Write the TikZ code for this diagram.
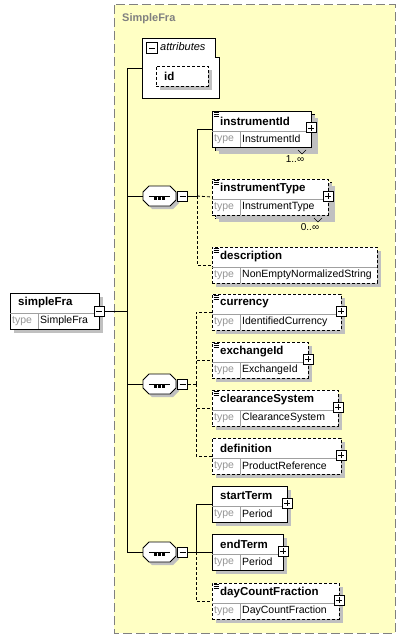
\documentclass[tikz,border=0pt]{standalone}
\usepackage{fontspec}
\setmainfont{Liberation Sans}
\usepackage{xcolor}
\usetikzlibrary{fit}
\definecolor{GroupYellow}{RGB}{255, 255, 196}
\definecolor{GroupBorder}{RGB}{128, 128, 128}
\definecolor{ShadowGray}{RGB}{192, 192, 192}
\definecolor{TypeGray}{RGB}{150, 150, 150}
\definecolor{DivGray}{RGB}{160, 160, 160}

% element box: name, style, left, top, right, label, type
\newcommand\elembox[7]{%
  \fill[ShadowGray] (#3+4,#4+4) rectangle (#5+4,#4+40);
  \node[elem,#2,fit={(#3,#4) (#5,#4+36)}] (#1) {};
  \draw[divline] (#3,#4+20) -- (#5,#4+20) (#3+28,#4+20) -- (#3+28,#4+36);
  \node[nametext] at (#3+8,#4+10) {#6};
  \node[typelbl] at (#3+2,#4+28) {type};
  \node[typetext] at (#3+30,#4+28) {#7};
}
% plus button on the right edge of an element
\newcommand\plusbtn[1]{%
  \node[btn] (#1plus) at ([yshift=1pt]#1.east) {};
  \draw[line width=0.9pt] ([xshift=-3pt]#1plus.center) -- ([xshift=3pt]#1plus.center)
    ([yshift=-3pt]#1plus.center) -- ([yshift=3pt]#1plus.center);
}
% documentation mark
\newcommand\docmark[1]{%
  \draw[line width=0.6pt] ([xshift=2pt,yshift=-2pt]#1.north west) -- ++(5,0)
    ++(-5,2) -- ++(5,0) ++(-5,2) -- ++(5,0);
}
% sequence compositor with its minus button
\newcommand\seqshape[2]{(#1-10.5,#2-10) -- (#1+10.5,#2-10) -- (#1+16.5,#2-4) -- (#1+16.5,#2+4)
  -- (#1+10.5,#2+10) -- (#1-10.5,#2+10) -- (#1-16.5,#2+4) -- (#1-16.5,#2-4) -- cycle}
\newcommand\seqnode[3]{%
  \fill[ShadowGray, shift={(3,3)}] \seqshape{#2}{#3};
  \draw[fill=white, line width=0.8pt] \seqshape{#2}{#3};
  \node[seqbox] (#1) at (#2,#3) {};
  \draw[line width=1pt] ([xshift=6pt]#1.west) -- ([xshift=-6pt]#1.east);
  \foreach \dx in {-5.5,-1.3,2.9}
    \fill ([xshift=\dx pt,yshift=-1.3pt]#1.center) rectangle ++(2.6,2.6);
  \node[btn,anchor=west] (#1minus) at ([xshift=1pt]#1.east) {};
  \draw[line width=0.9pt] ([xshift=-3pt]#1minus.center) -- ([xshift=3pt]#1minus.center);
}

\tikzset{
  elem/.style={draw, fill=white, line width=0.8pt, inner sep=0pt},
  divline/.style={draw=DivGray, line width=0.6pt, solid},
  nametext/.style={anchor=west, inner sep=0pt, font=\fontsize{11.5}{13}\selectfont\bfseries},
  typelbl/.style={anchor=west, inner sep=0pt, text=TypeGray, font=\fontsize{10.5}{12}\selectfont},
  typetext/.style={anchor=west, inner sep=0pt, font=\fontsize{10.5}{12}\selectfont},
  btn/.style={draw, fill=white, line width=1pt, minimum size=10pt, inner sep=0pt},
  seqbox/.style={minimum width=33pt, minimum height=20pt, inner sep=0pt},
  occur/.style={font=\fontsize{10}{12}\selectfont, inner sep=0pt},
  link/.style={line width=0.8pt},
  optlink/.style={line width=0.8pt, dashed, dash pattern=on 3pt off 2pt},
}

\begin{document}
\begin{tikzpicture}[x=1pt, y=-1pt]
  \useasboundingbox (0,0) rectangle (405,639);
  \fill[white] (0,0) rectangle (405,639);

  % complex type group
  \draw[fill=GroupYellow, draw=GroupBorder, line width=1pt, dash pattern=on 9pt off 4pt]
    (114,5) rectangle (395,633);
  \node[anchor=west, inner sep=0pt, text=GroupBorder, font=\fontsize{11}{13}\selectfont\bfseries]
    (ctname) at (122,19) {SimpleFra};

  % attributes
  \node[inner sep=0pt, fit={(142,38) (219,98)}] (attrs) {};
  \draw[fill=white, line width=0.8pt] (142,38) -- (215,38) -- (215,57) -- (219,57)
    -- (219,98) -- (142,98) -- cycle;
  \node[btn, minimum size=11pt] (attrsminus) at (152,48.5) {};
  \draw[line width=0.9pt] (149,48.5) -- (155,48.5);
  \node[anchor=west, inner sep=0pt, font=\fontsize{11}{13}\selectfont\itshape] at (160,47) {attributes};
  \fill[ShadowGray] (160,70) rectangle (212,90);
  \node[elem, dashed, dash pattern=on 3pt off 2pt, fit={(156,66) (208,86)}] (id) {};
  \node[nametext] at (164,76) {id};

  % root element
  \elembox{simpleFra}{}{10}{293}{99}{simpleFra}{SimpleFra}
  \node[btn, anchor=center] (simpleFraminus) at (99,311) {};
  \draw[line width=0.9pt] (96,311) -- (102,311);

  % compositors
  \seqnode{seqA}{159.5}{196}
  \seqnode{seqB}{159.5}{384}
  \seqnode{seqC}{159.5}{552}

  % first sequence
  \fill[ShadowGray] (219,118) rectangle (318,154);
  \node[elem, fit={(215,114) (314,150)}] (instrumentIdback) {};
  \elembox{instrumentId}{}{212}{111}{311}{instrumentId}{InstrumentId}
  \plusbtn{instrumentId}
  \docmark{instrumentId}
  \draw[line width=0.6pt] (298,150) -- (302,154) -- (306,150);
  \node[occur] at (295,159) {1..∞};

  \fill[ShadowGray] (219,186) rectangle (335,222);
  \node[elem, optlink, fit={(215,182) (331,218)}] (instrumentTypeback) {};
  \elembox{instrumentType}{optlink}{212}{179}{328}{instrumentType}{InstrumentType}
  \plusbtn{instrumentType}
  \docmark{instrumentType}
  \draw[line width=0.6pt] (314,218) -- (318,222) -- (322,218);
  \node[occur] at (310,227) {0..∞};

  \elembox{description}{optlink}{212}{247}{377}{description}{NonEmptyNormalizedString}
  \docmark{description}

  % second sequence
  \elembox{currency}{optlink}{212}{294}{341}{currency}{IdentifiedCurrency}
  \plusbtn{currency}
  \docmark{currency}
  \elembox{exchangeId}{optlink}{212}{342}{308}{exchangeId}{ExchangeId}
  \plusbtn{exchangeId}
  \docmark{exchangeId}
  \elembox{clearanceSystem}{optlink}{212}{390}{338}{clearanceSystem}{ClearanceSystem}
  \plusbtn{clearanceSystem}
  \docmark{clearanceSystem}
  \elembox{definition}{optlink}{212}{438}{341}{definition}{ProductReference}
  \plusbtn{definition}

  % third sequence
  \elembox{startTerm}{}{212}{486}{287}{startTerm}{Period}
  \plusbtn{startTerm}
  \elembox{endTerm}{}{212}{534}{283}{endTerm}{Period}
  \plusbtn{endTerm}
  \elembox{dayCountFraction}{optlink}{212}{583}{339}{dayCountFraction}{DayCountFraction}
  \plusbtn{dayCountFraction}
  \docmark{dayCountFraction}

  % connectors
  \coordinate (trunkTop) at (127,68);
  \coordinate (trunkBot) at (127,552);
  \draw[link] (simpleFraminus.east) -- (simpleFraminus.east -| trunkTop);
  \draw[link] (attrs.west) -- (trunkTop) -- (trunkBot);
  \draw[link] (seqA.west -| trunkTop) -- (seqA.west);
  \draw[link] (seqB.west -| trunkTop) -- (seqB.west);
  \draw[link] (seqC.west -| trunkTop) -- (seqC.west);

  \coordinate (brA) at (197,196);
  \draw[link] (seqAminus.east) -- (brA) |- (instrumentId.west);
  \draw[optlink] (brA) -- (instrumentType.west);
  \draw[optlink] (brA) |- (description.west);

  \coordinate (brB) at (196,384);
  \draw[optlink] (seqBminus.east) -- (brB);
  \draw[optlink] (brB) |- (currency.west);
  \draw[optlink] (brB) |- (exchangeId.west);
  \draw[optlink] (brB) |- (clearanceSystem.west);
  \draw[optlink] (brB) |- (definition.west);

  \coordinate (brC) at (196,552);
  \draw[link] (seqCminus.east) -- (brC) |- (startTerm.west);
  \draw[link] (brC) -- (endTerm.west);
  \draw[optlink] (brC) |- (dayCountFraction.west);
\end{tikzpicture}
\end{document}
